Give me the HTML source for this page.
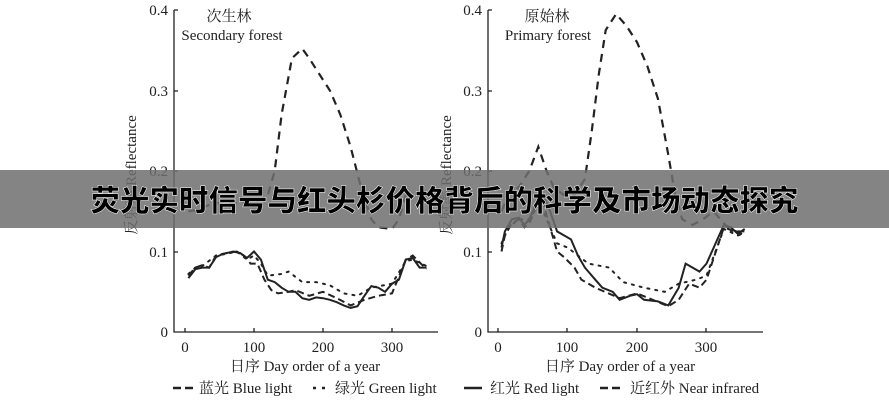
<!DOCTYPE html>
<html><head><meta charset="utf-8"><style>
body{margin:0;width:889px;height:400px;background:#fff;overflow:hidden;position:relative}
svg{position:absolute;left:0;top:0}
text{font-family:"Liberation Serif","Noto Serif CJK SC",serif;fill:#222}
#ban{position:absolute;left:0;top:170px;width:889px;height:58px;background:rgba(110,110,110,0.85);display:flex;align-items:center;justify-content:center;font-family:"Liberation Sans","Noto Sans CJK SC",sans-serif;font-weight:900;font-size:29.5px;color:#000;-webkit-text-stroke:0.5px #fff;letter-spacing:0}
</style></head><body>
<svg id="s" width="889" height="400" viewBox="0 0 889 400">
<g stroke="#222" stroke-width="1.3" fill="none">
<path d="M174 10V332H438"/>
<path d="M488 10V332H763"/>
<path d="M174 10h4M174 91h4M174 171h4M174 252h4M185 332v-4M254 332v-4M323 332v-4M392 332v-4"/>
<path d="M488 10h4M488 91h4M488 171h4M488 252h4M498 332v-4M567 332v-4M637 332v-4M706 332v-4"/>
</g>
<g font-size="15" text-anchor="end">
<text x="168" y="15">0.4</text><text x="168" y="96">0.3</text><text x="168" y="176">0.2</text><text x="168" y="257">0.1</text><text x="168" y="337">0</text>
<text x="482" y="15">0.4</text><text x="482" y="96">0.3</text><text x="482" y="176">0.2</text><text x="482" y="257">0.1</text><text x="482" y="337">0</text>
</g>
<g font-size="15" text-anchor="middle">
<text x="185" y="352">0</text><text x="254" y="352">100</text><text x="323" y="352">200</text><text x="392" y="352">300</text>
<text x="498" y="352">0</text><text x="567" y="352">100</text><text x="637" y="352">200</text><text x="706" y="352">300</text>
<text x="305" y="371">日序 Day order of a year</text>
<text x="620" y="371">日序 Day order of a year</text>
<text x="229" y="21">次生林</text><text x="232" y="40">Secondary forest</text>
<text x="547" y="21">原始林</text><text x="548" y="40">Primary forest</text>
<text transform="translate(136,175) rotate(-90)">反射率 Reflectance</text>
<text transform="translate(451,175) rotate(-90)">反射率 Reflectance</text>
</g>
<g font-size="15">
<path d="M173 388h8M185 388h8" stroke="#222" stroke-width="2.5"/><text x="199" y="393">蓝光 Blue light</text>
<path d="M313 388h3M322 388h3" stroke="#222" stroke-width="2.5"/><text x="335" y="393">绿光 Green light</text>
<path d="M464 388h18" stroke="#222" stroke-width="2.5"/><text x="490" y="393">红光 Red light</text>
<path d="M600 388h8M612 388h8" stroke="#222" stroke-width="2.5"/><text x="630" y="393">近红外 Near infrared</text>
</g>
<g id="lines" fill="none" stroke="#222"></g>
</svg>
<div id="ban">荧光实时信号与红头杉价格背后的科学及市场动态探究</div>
<script>
var L={nir:[[5,.15],[20,.152],[40,.16],[60,.16],[80,.16],[100,.16],[120,.17],[130,.2],[140,.27],[155,.34],[170,.352],[180,.34],[195,.32],[210,.3],[225,.27],[240,.23],[255,.18],[270,.14],[280,.13],[300,.128],[310,.14],[320,.17]],
red:[[5,.067],[15,.078],[25,.08],[35,.08],[45,.093],[55,.097],[70,.1],[80,.098],[90,.092],[100,.1],[110,.09],[120,.065],[130,.062],[140,.055],[150,.05],[160,.05],[170,.042],[180,.04],[190,.043],[200,.042],[210,.04],[220,.037],[230,.033],[240,.03],[250,.032],[260,.045],[270,.057],[280,.055],[290,.05],[300,.06],[310,.065],[320,.09],[330,.092],[340,.08],[350,.08]],
blue:[[5,.07],[15,.08],[25,.083],[35,.08],[45,.095],[60,.098],[75,.1],[85,.095],[95,.085],[105,.085],[115,.065],[125,.052],[135,.048],[150,.05],[160,.052],[180,.045],[200,.05],[220,.042],[240,.033],[260,.04],[280,.045],[300,.048],[320,.09],[330,.095],[350,.078]],
green:[[5,.072],[15,.08],[25,.082],[45,.095],[60,.097],[75,.1],[90,.09],[100,.095],[110,.085],[120,.07],[140,.072],[150,.075],[170,.062],[190,.062],[210,.058],[230,.048],[250,.045],[270,.055],[300,.06],[320,.088],[330,.09],[350,.082]]};
var R={nir:[[5,.15],[15,.17],[30,.18],[45,.2],[58,.23],[70,.2],[80,.18],[95,.17],[110,.17],[125,.19],[135,.25],[145,.32],[155,.375],[170,.395],[185,.38],[200,.36],[215,.33],[230,.29],[245,.22],[255,.17],[265,.14],[280,.133],[295,.14],[310,.15],[330,.13],[355,.12]],
red:[[5,.105],[10,.125],[20,.14],[30,.142],[38,.133],[45,.14],[55,.16],[65,.17],[75,.15],[85,.125],[95,.12],[105,.115],[115,.095],[125,.08],[140,.065],[150,.055],[165,.05],[175,.04],[190,.045],[200,.047],[210,.04],[230,.038],[245,.033],[260,.055],[270,.085],[280,.08],[290,.075],[300,.085],[325,.133],[335,.13],[345,.122],[355,.128]],
blue:[[5,.1],[10,.12],[20,.135],[30,.14],[38,.13],[45,.135],[55,.155],[65,.16],[75,.13],[85,.1],[95,.093],[110,.08],[120,.065],[140,.055],[175,.042],[200,.048],[245,.032],[260,.04],[275,.06],[290,.055],[300,.065],[325,.13],[340,.125],[355,.125]],
green:[[5,.11],[15,.13],[30,.14],[45,.14],[60,.16],[75,.13],[85,.11],[100,.105],[115,.095],[130,.085],[160,.08],[180,.062],[210,.055],[240,.05],[260,.06],[285,.065],[300,.07],[325,.128],[345,.12],[355,.122]]};
var st={nir:["2.2","8 6"],red:["2",""],blue:["2","7 4"],green:["2","2 6"]};
function draw(D,x0,sx){var g=document.getElementById('lines');for(var k in D){var p=document.createElementNS('http://www.w3.org/2000/svg','polyline');p.setAttribute('points',D[k].map(function(a){return (x0+sx*a[0]).toFixed(1)+','+(332-805*a[1]).toFixed(1)}).join(' '));p.setAttribute('stroke-width',st[k][0]);if(st[k][1])p.setAttribute('stroke-dasharray',st[k][1]);if(k=='green')p.setAttribute('stroke-linecap','round');g.appendChild(p);}}
draw(L,185,0.69);draw(R,498,0.695);
</script>
</body></html>
